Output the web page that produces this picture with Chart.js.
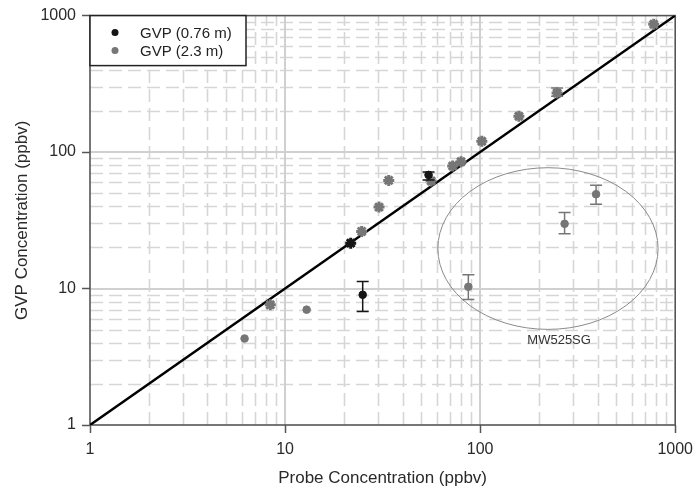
<!DOCTYPE html>
<html><head><meta charset="utf-8">
<script src="https://cdn.jsdelivr.net/npm/chart.js@4.4.0/dist/chart.umd.min.js"></script>
<style>html,body{margin:0;padding:0;background:#fff}#wrap{width:700px;height:492px;position:relative}</style>
</head><body><div id="wrap"><canvas id="c"></canvas></div>
<script>
// ---- data ----
const seriesNames = ['GVP (0.76 m)', 'GVP (2.3 m)'];
const xTitle = 'Probe Concentration (ppbv)';
const yTitle = 'GVP Concentration (ppbv)';
const ellipseLabel = 'MW525SG';

const probe076 = [21.7, 25, 54.4];
const gvp076 = [21.5, 9.0, 68];
const gvp076ErrLow = [0, 2.2, 5.5];
const gvp076ErrHigh = [0, 2.25, 3.5];
const marker076 = ['star', 'circle', 'circle'];

const probe23 = [6.2, 8.4, 12.9, 24.7, 30.3, 34, 56.1, 72.3, 79.8, 102, 158, 248, 776, 87, 271, 393];
const gvp23 = [4.3, 7.6, 7.0, 26.2, 39.5, 62, 61.4, 79, 85, 120, 183, 271, 864, 10.3, 29.8, 49.1];
const gvp23ErrLow = [0, 0, 0, 0, 0, 0, 0, 0, 0, 0, 0, 15, 0, 2.0, 4.6, 7.6];
const gvp23ErrHigh = [0, 0, 0, 0, 0, 0, 0, 0, 0, 0, 0, 24, 0, 2.3, 6.2, 8.0];
const marker23 = ['circle', 'star', 'circle', 'star', 'star', 'star', 'star', 'star', 'star', 'star', 'star', 'star', 'star', 'circle', 'circle', 'circle'];

const oneToOne = [1, 1000];
const axisMin = 1, axisMax = 1000;
// ellipse around the MW525SG points, in data units
const ellipseX = [60.7, 817];
const ellipseY = [5.02, 76.8];
const ellipseLabelAt = [254, 4.17];

// ---- styling ----
const FONT = "'Liberation Sans', Arial, Helvetica, sans-serif";
const BLACK = '#151515';
const GRAY = '#767676';
const isDecade = v => v > 0 && Math.abs(Math.log10(v) - Math.round(Math.log10(v))) < 1e-9;

const decorPlugin = {
  id: 'decor',
  beforeDatasetsDraw(chart) {
    const { ctx, chartArea: a, scales: { x, y } } = chart;
    ctx.save();
    // minor dashed grid
    ctx.lineWidth = 1.6;
    ctx.strokeStyle = '#d6d6d6';
    ctx.setLineDash([13, 6]);
    for (let d = 1; d < axisMax; d *= 10) {
      for (let m = 2; m <= 9; m++) {
        const v = m * d;
        const px = Math.round(x.getPixelForValue(v)) + 0.5;
        ctx.beginPath(); ctx.moveTo(px, a.bottom); ctx.lineTo(px, a.top); ctx.stroke();
        const py = Math.round(y.getPixelForValue(v)) + 0.5;
        ctx.beginPath(); ctx.moveTo(a.left, py); ctx.lineTo(a.right, py); ctx.stroke();
      }
    }
    // major solid grid
    ctx.setLineDash([]);
    ctx.lineWidth = 2;
    ctx.strokeStyle = '#d0d0d0';
    for (let d = 10; d < axisMax; d *= 10) {
      const px = Math.round(x.getPixelForValue(d));
      ctx.beginPath(); ctx.moveTo(px, a.bottom); ctx.lineTo(px, a.top); ctx.stroke();
      const py = Math.round(y.getPixelForValue(d));
      ctx.beginPath(); ctx.moveTo(a.left, py); ctx.lineTo(a.right, py); ctx.stroke();
    }
    // ellipse
    const ex0 = x.getPixelForValue(ellipseX[0]), ex1 = x.getPixelForValue(ellipseX[1]);
    const ey0 = y.getPixelForValue(ellipseY[0]), ey1 = y.getPixelForValue(ellipseY[1]);
    ctx.lineWidth = 1;
    ctx.strokeStyle = '#8a8a8a';
    ctx.beginPath();
    ctx.ellipse((ex0 + ex1) / 2, (ey0 + ey1) / 2, Math.abs(ex1 - ex0) / 2, Math.abs(ey1 - ey0) / 2, 0, 0, Math.PI * 2);
    ctx.stroke();
    ctx.fillStyle = '#333';
    ctx.font = '13px ' + FONT;
    ctx.textAlign = 'center';
    ctx.textBaseline = 'middle';
    ctx.fillText(ellipseLabel, x.getPixelForValue(ellipseLabelAt[0]), y.getPixelForValue(ellipseLabelAt[1]));
    // plot box
    ctx.lineWidth = 1.6;
    ctx.strokeStyle = '#555';
    ctx.strokeRect(a.left, a.top, a.right - a.left, a.bottom - a.top);
    ctx.restore();
  },
  afterDatasetsDraw(chart) {
    const { ctx, scales: { x, y } } = chart;
    ctx.save();
    chart.data.datasets.forEach(ds => {
      if (!ds.errLow) return;
      ctx.strokeStyle = ds.borderColor;
      ctx.lineWidth = 1.5;
      ds.data.forEach((p, i) => {
        const lo = ds.errLow[i], hi = ds.errHigh[i];
        if (!lo && !hi) return;
        const px = x.getPixelForValue(p.x);
        const y0 = y.getPixelForValue(p.y - lo), y1 = y.getPixelForValue(p.y + hi);
        ctx.beginPath();
        ctx.moveTo(px, y0); ctx.lineTo(px, y1);
        ctx.moveTo(px - 6, y0); ctx.lineTo(px + 6, y0);
        ctx.moveTo(px - 6, y1); ctx.lineTo(px + 6, y1);
        ctx.stroke();
      });
    });
    ctx.restore();
  },
  afterDraw(chart) {
    const { ctx, chartArea: a } = chart;
    ctx.save();
    const L = a.left, T = a.top, W = 156, H = 50;
    ctx.fillStyle = '#fff';
    ctx.fillRect(L, T, W, H);
    ctx.lineWidth = 1.5;
    ctx.strokeStyle = '#222';
    ctx.strokeRect(L, T, W, H);
    ctx.font = '15px ' + FONT;
    ctx.textAlign = 'left';
    ctx.textBaseline = 'middle';
    const cols = [BLACK, GRAY];
    seriesNames.forEach((n, i) => {
      const cy = T + 17 + i * 18;
      ctx.fillStyle = cols[i];
      ctx.beginPath(); ctx.arc(L + 25, cy, 3.5, 0, Math.PI * 2); ctx.fill();
      ctx.fillStyle = '#222';
      ctx.fillText(n, L + 50, cy + 1);
    });
    ctx.restore();
  }
};

const toPts = (xs, ys) => xs.map((v, i) => ({ x: v, y: ys[i] }));

const axisCommon = (title, pos) => ({
  type: 'logarithmic',
  position: pos,
  min: axisMin,
  max: axisMax,
  border: { display: false },
  grid: {
    color: 'rgba(0,0,0,0)',
    drawTicks: true,
    tickLength: 8,
    tickWidth: 1.5,
    tickColor: c => (c.tick && isDecade(c.tick.value)) ? '#555' : 'rgba(0,0,0,0)'
  },
  ticks: {
    autoSkip: false,
    maxRotation: 0,
    minRotation: 0,
    color: '#2a2a2a',
    font: { family: FONT, size: 16 },
    padding: pos === 'left' ? 6 : 7,
    callback: v => isDecade(v) ? String(Math.round(v)) : ''
  },
  title: {
    display: true,
    text: title,
    color: '#2a2a2a',
    font: { family: FONT, size: 17 },
    padding: pos === 'left' ? { top: 12, bottom: 0 } : { top: 0, bottom: 3 }
  },
  afterFit: s => { if (pos === 'left') s.width = 90; else s.height = 67; }
});

const sizeFor = (markers) => c => markers[c.dataIndex] === 'circle' ? 3.8 : 5.5;
const widthFor = (markers) => c => markers[c.dataIndex] === 'circle' ? 1 : 3;

new Chart(document.getElementById('c'), {
  type: 'scatter',
  data: {
    datasets: [
      {
        label: seriesNames[0],
        data: toPts(probe076, gvp076),
        errLow: gvp076ErrLow, errHigh: gvp076ErrHigh,
        pointStyle: marker076,
        backgroundColor: BLACK, borderColor: BLACK,
        pointRadius: sizeFor(marker076),
        pointBorderWidth: widthFor(marker076)
      },
      {
        label: seriesNames[1],
        data: toPts(probe23, gvp23),
        errLow: gvp23ErrLow, errHigh: gvp23ErrHigh,
        pointStyle: marker23,
        backgroundColor: GRAY, borderColor: GRAY,
        pointRadius: sizeFor(marker23),
        pointBorderWidth: widthFor(marker23)
      },
      {
        type: 'line',
        label: '1:1',
        data: toPts(oneToOne, oneToOne),
        borderColor: '#000', borderWidth: 2.5,
        pointRadius: 0, showLine: true, fill: false
      }
    ]
  },
  options: {
    responsive: true,
    maintainAspectRatio: false,
    animation: false,
    layout: { padding: { top: 14, right: 21, left: 0, bottom: 0 } },
    plugins: { legend: { display: false }, tooltip: { enabled: false } },
    scales: {
      x: axisCommon(xTitle, 'bottom'),
      y: axisCommon(yTitle, 'left')
    }
  },
  plugins: [decorPlugin]
});
</script>
</body></html>
